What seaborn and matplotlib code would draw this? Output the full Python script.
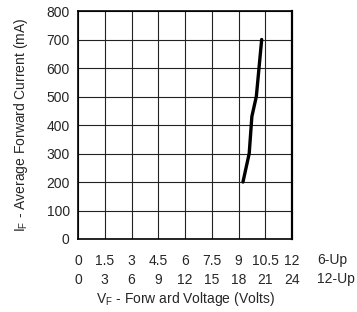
import matplotlib
matplotlib.use("Agg")
import matplotlib.pyplot as plt
import seaborn as sns
import pandas as pd

# forward voltage (6-Up scale) vs average forward current
vf_6up = [9.25, 9.6, 9.75, 10.0, 10.3]
if_ma = [200, 300, 430, 500, 700]

xticks_6up = [0, 1.5, 3, 4.5, 6, 7.5, 9, 10.5, 12]
xticks_12up = [0, 3, 6, 9, 12, 15, 18, 21, 24]
yticks = [0, 100, 200, 300, 400, 500, 600, 700, 800]

sns.set_style("white")
plt.rcParams['font.family'] = ['Liberation Sans', 'DejaVu Sans']

df = pd.DataFrame({'vf': vf_6up, 'if': if_ma})

fig = plt.figure(figsize=(3.57, 3.12), dpi=100)
ax = fig.add_axes([78 / 357, 1 - 239 / 312, 214 / 357, 228 / 312])

sns.lineplot(data=df, x='vf', y='if', ax=ax, color='black', linewidth=2.4, sort=False)

ax.set_xlim(0, 12)
ax.set_ylim(0, 800)
ax.set_xticks(xticks_6up)
ax.set_xticklabels([f"{a:g}\n{b:g}" for a, b in zip(xticks_6up, xticks_12up)],
                   fontsize=10, linespacing=1.45)
ax.set_yticks(yticks)
ax.set_yticklabels([str(v) for v in yticks], fontsize=10)
ax.tick_params(axis='both', direction='out', length=4, width=0.8, color='black')
ax.tick_params(axis='x', pad=7)
ax.tick_params(axis='y', pad=2)
ax.grid(True, color='#222222', linewidth=0.8)
for s in ax.spines.values():
    s.set_visible(True)
    s.set_color('black')
    s.set_linewidth(1.2)
    s.set_zorder(5)
ax.spines['right'].set_linewidth(1.6)

ax.text(13.4, -0.062, "6-Up\n12-Up", transform=ax.get_xaxis_transform(),
        ha='left', va='top', fontsize=10, linespacing=1.45)

ax.set_xlabel("V$_\\mathregular{F}$ - Forw ard Voltage (Volts)", fontsize=10, labelpad=2)
ax.set_ylabel("I$_\\mathregular{F}$ - Average Forward Current (mA)", fontsize=10, labelpad=12)

fig.savefig("out.png", dpi=100)
